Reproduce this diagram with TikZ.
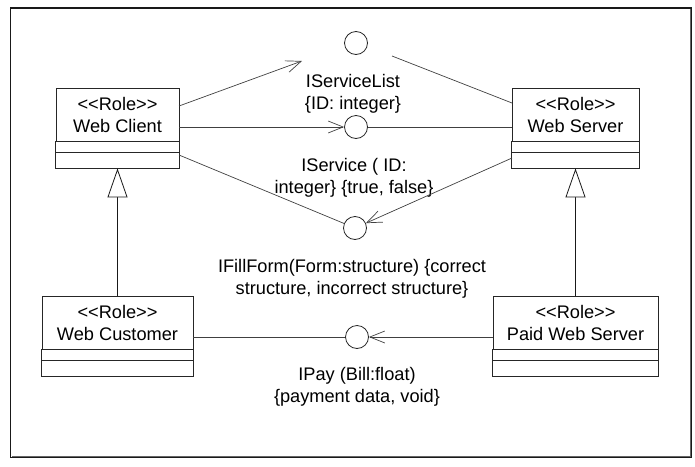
\documentclass[tikz,border=0pt]{standalone}
\usepackage{fontspec}
\setmainfont{Liberation Sans}[Ligatures=TeXOff]
\usetikzlibrary{arrows.meta,calc}

\tikzset{
  x=1pt, y=-1pt,
  every node/.style={font=\fontsize{18.2}{22}\selectfont, text=black},
  classname/.style={draw=black!85, line width=0.9pt, rectangle, minimum height=53pt,
    inner sep=0pt, align=center},
  compart/.style={draw=black!85, line width=0.9pt},
  iface/.style={circle, draw=black!85, line width=0.8pt, minimum size=23pt, inner sep=0pt},
  link/.style={draw=black!75, line width=0.7pt},
  uses/.style={link, -{Straight Barb[length=15pt,width=12pt,line width=0.7pt]}},
  inherit/.style={draw=black!90, line width=0.8pt,
    -{Triangle[open,length=29pt,width=20pt,line width=0.8pt,fill=white]}},
  tag/.style={align=center, inner sep=0pt},
}

% class box: name compartment is the node, two empty compartments below it
\newcommand{\classcompartments}[1]{%
  \draw[compart] (#1.south west) rectangle ($(#1.south east)+(0,27)$);
  \draw[compart] ($(#1.south west)+(0,11)$) -- ($(#1.south east)+(0,11)$);
  \coordinate (#1-bot) at ($(#1.south)+(0,27)$);
}

\begin{document}
\begin{tikzpicture}
\useasboundingbox (0,0) rectangle (695,466);

% outer frame, with a slightly heavier right and bottom edge
\draw[black!90, line width=1.6pt] (10.3,7.8) rectangle (691.5,457.6);
\draw[black!60, line width=0.8pt] (690,9) -- (690,456.2) -- (11.5,456.2);

% role classes
\node[classname, minimum width=123pt] (wc)  at (117.5,114.5) {<<Role>>\\Web Client};
\node[classname, minimum width=127pt] (ws)  at (575.5,114.5) {<<Role>>\\Web Server};
\node[classname, minimum width=151pt] (wcu) at (117.5,322.5) {<<Role>>\\Web Customer};
\node[classname, minimum width=165pt] (pws) at (575.5,322.5) {<<Role>>\\Paid Web Server};
\classcompartments{wc}
\classcompartments{ws}
\classcompartments{wcu}
\classcompartments{pws}

% interfaces (lollipops)
\node[iface] (list) at (356,43) {};
\node[iface] (svc)  at (356,127) {};
\node[iface] (form) at (355,228) {};
\node[iface] (pay)  at (357,337) {};

% interface labels
\node[tag] (list-l) at (353,93.5)  {IServiceList\\\{ID: integer\}};
\node[tag] (svc-l)  at (354,178)   {IService ( ID:\\integer\} \{true, false\}};
\node[tag] (form-l) at (352,278.5) {IFillForm(Form:structure) \{correct\\structure, incorrect structure\}};
\node[tag] (pay-l)  at (357,386.5) {IPay (Bill:float)\\\{payment data, void\}};

% connector end points
\coordinate (wc-a)   at (179,106);
\coordinate (list-w) at (302,61);
\coordinate (ws-a)   at (512,103);
\coordinate (list-e) at (392,56);
\coordinate (wc-c)   at (179,155);
\coordinate (ws-c)   at (512,158);

% IServiceList
\draw[uses] (wc-a) -- (list-w);
\draw[link] (ws-a) -- (list-e);
% IService
\draw[uses] (wc.east |- svc) -- (svc);
\draw[link] (svc) -- (ws.west |- svc);
% IFillForm
\draw[link] (wc-c) -- (form);
\draw[uses] (ws-c) -- (form);
% IPay
\draw[link] (wcu.east |- pay) -- (pay);
\draw[uses] (pws.west |- pay) -- (pay);

% generalizations
\draw[inherit] (wcu.north) -- (wc-bot);
\draw[inherit] (pws.north) -- (ws-bot);
\end{tikzpicture}
\end{document}
